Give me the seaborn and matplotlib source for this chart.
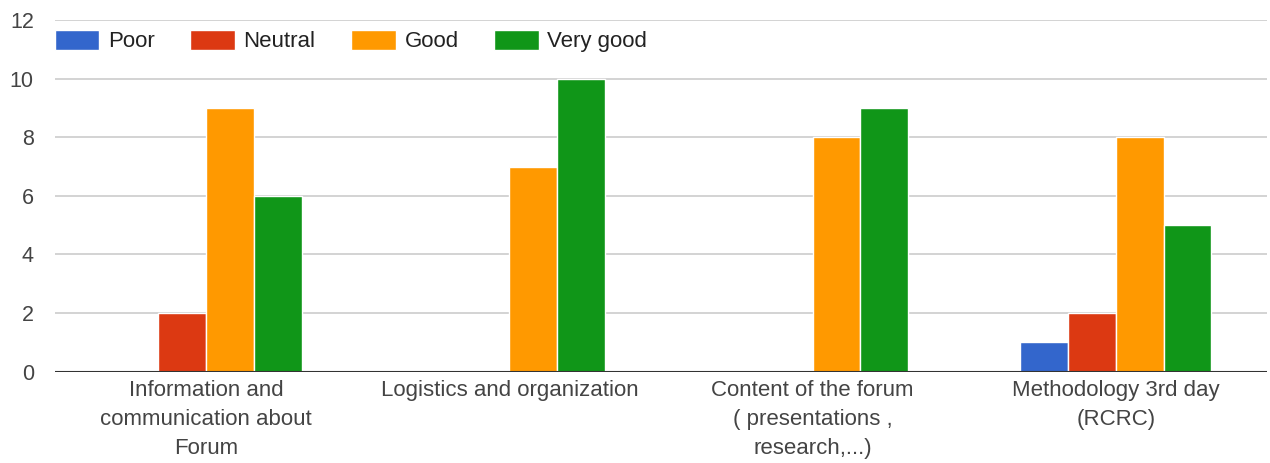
import pandas as pd
import matplotlib.pyplot as plt
import seaborn as sns

# survey answers per topic
topics = [
    "Information and\ncommunication about\nForum",
    "Logistics and organization",
    "Content of the forum\n( presentations ,\nresearch,...)",
    "Methodology 3rd day\n(RCRC)",
]
ratings = ["Poor", "Neutral", "Good", "Very good"]
poor = [0, 0, 0, 1]
neutral = [2, 0, 0, 2]
good = [9, 7, 8, 8]
very_good = [6, 10, 9, 5]
colors = ["#3366CC", "#DC3912", "#FF9900", "#109618"]

# long format for seaborn
rows = []
for name, vals in zip(ratings, [poor, neutral, good, very_good]):
    for t, v in zip(topics, vals):
        rows.append({"topic": t, "rating": name, "count": v})
df = pd.DataFrame(rows)

sns.set_style("white")
plt.rcParams["font.family"] = ["Liberation Sans", "DejaVu Sans"]

fig = plt.figure(figsize=(12.7, 4.63), dpi=100)
ax = fig.add_axes([0.043, 0.197, 0.955, 0.76])

sns.barplot(
    data=df, x="topic", y="count", hue="rating",
    palette=colors, saturation=1, width=0.63, edgecolor="white", linewidth=1,
    ax=ax, legend=True,
)

ax.set_xlim(-0.5, 3.5)
ax.set_ylim(0, 12)
ax.set_yticks(range(0, 13, 2))
ax.yaxis.grid(True, color="#cccccc", linewidth=1.2)
ax.set_axisbelow(True)
ax.axhline(0, color="#333333", linewidth=1.5)
for s in ax.spines.values():
    s.set_visible(False)
ax.set_xlabel("")
ax.set_ylabel("")
ax.tick_params(axis="both", length=0, labelsize=16, colors="#444444")
ax.tick_params(axis="y", labelsize=15.5, pad=15)
ax.tick_params(axis="x", pad=6)
for lbl in ax.get_xticklabels():
    lbl.set_linespacing(1.5)

leg = ax.legend(
    loc="center left", bbox_to_anchor=(0.0, 0.94), ncol=4, frameon=False,
    fontsize=16, handlelength=2.0, handleheight=1.0, columnspacing=1.6,
    handletextpad=0.4, borderaxespad=0, borderpad=0,
)
for t in leg.get_texts():
    t.set_color("#222222")

fig.savefig("out.png", dpi=100)
